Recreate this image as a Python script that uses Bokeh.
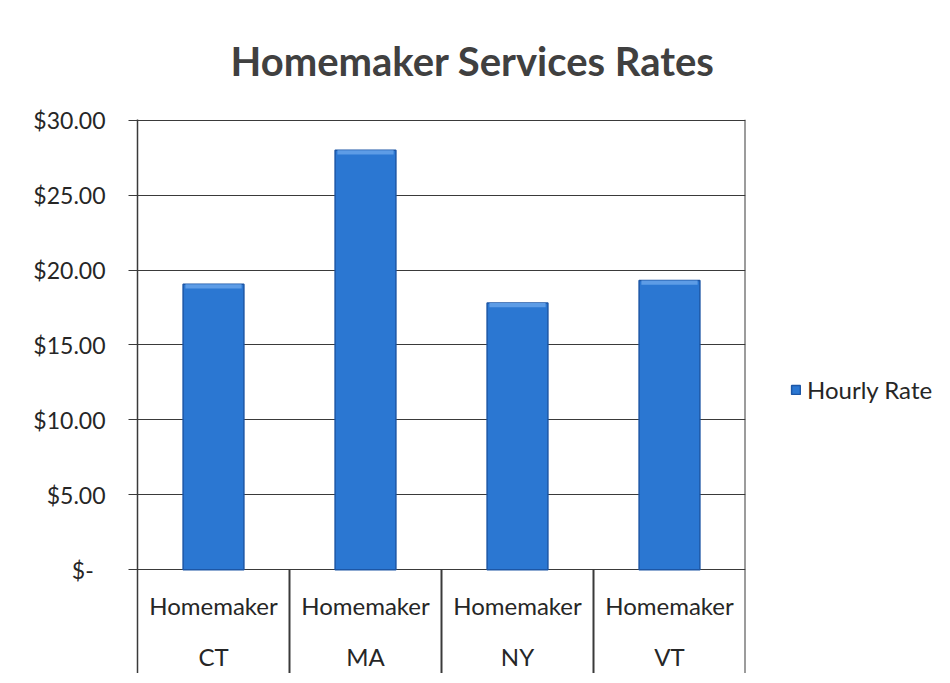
import numpy as np
from bokeh.plotting import figure
from bokeh.models import Range1d, FixedTicker, Legend, LegendItem, ColumnDataSource
from bokeh.core.properties import value
from bokeh.embed import file_html
from bokeh.resources import INLINE

# ---- data ----
states = ["CT", "MA", "NY", "VT"]
services = ["Homemaker", "Homemaker", "Homemaker", "Homemaker"]
hourly_rate = [19.05, 28.0, 17.8, 19.3]
y_ticks = [0, 5, 10, 15, 20, 25, 30]
y_tick_labels = ["$-\u00a0\u00a0", "$5.00", "$10.00", "$15.00", "$20.00", "$25.00", "$30.00"]
series_name = "Hourly Rate"
title_text = "Homemaker Services Rates"

FONT = "Lato"
TXT = "#262626"
LINE = "#3a3a3a"
BAR = "#2b77d2"
BAR_EDGE = "#1c56a6"
BAR_HI = "#5d9ce6"

n = len(states)
centers = np.arange(n) + 0.5
y_bottom = -6.93
y_top = 30.05
rates = np.array(hourly_rate)

src = ColumnDataSource(dict(x=centers, top=rates, hi=rates - 0.28,
                            state=states, service=services))

p = figure(frame_width=608, frame_height=554, output_backend="svg", toolbar_location=None,
           x_range=Range1d(0, n), y_range=Range1d(y_bottom, y_top),
           x_axis_location=None,
           min_border_left=137, min_border_right=199, min_border_top=118, min_border_bottom=0,
           title=title_text)
p.outline_line_color = None
p.background_fill_color = "white"
p.border_fill_color = "white"

p.title.text_font = FONT
p.title.text_font_style = "bold"
p.title.text_font_size = "40px"
p.title.text_color = "#404040"
p.title.align = "left"
p.title.offset = 93
p.title.standoff = 69

# y axis
ax = p.yaxis[0]
ax.ticker = FixedTicker(ticks=y_ticks)
ax.major_label_overrides = {t: l for t, l in zip(y_ticks, y_tick_labels)}
ax.minor_tick_line_color = None
ax.major_tick_in = 0
ax.major_tick_out = 9
ax.major_label_standoff = 23
ax.major_label_text_font = FONT
ax.major_label_text_font_size = "23px"
ax.major_label_text_color = TXT
ax.axis_line_color = LINE
ax.axis_line_width = 1.5
ax.major_tick_line_color = LINE

p.xgrid.grid_line_color = None
p.ygrid.ticker = FixedTicker(ticks=y_ticks)
p.ygrid.grid_line_color = LINE
p.ygrid.grid_line_width = 1.2

# bars
bars = p.vbar(x="x", top="top", bottom=0, width=0.4, source=src,
              fill_color=BAR, line_color=BAR_EDGE, line_width=1.5)
p.vbar(x="x", top="top", bottom="hi", width=0.37, source=src,
       fill_color=BAR_HI, line_color=None)

# category separators and right border
sep_x = np.arange(1, n + 1)
sep_top = [0] * (n - 1) + [y_top]
p.segment(x0=sep_x, x1=sep_x, y0=[y_bottom] * n, y1=sep_top,
          line_color=LINE, line_width=2)

# category labels (two levels)
p.text(x="x", y=-2.37, text="service", source=src, text_align="center",
       text_baseline="middle", text_font=value(FONT), text_font_size="24px",
       text_color=TXT)
p.text(x="x", y=-5.8, text="state", source=src, text_align="center",
       text_baseline="middle", text_font=value(FONT), text_font_size="24px",
       text_color=TXT)

legend = Legend(items=[LegendItem(label=series_name, renderers=[bars])],
                location=(45, 269), padding=5, margin=0,
                border_line_color=None, background_fill_alpha=0,
                glyph_width=11, glyph_height=11, label_standoff=6,
                label_text_font=FONT, label_text_font_size="24px",
                label_text_color=TXT)
p.add_layout(legend, "right")

open("out.html", "w").write(file_html(p, INLINE))
